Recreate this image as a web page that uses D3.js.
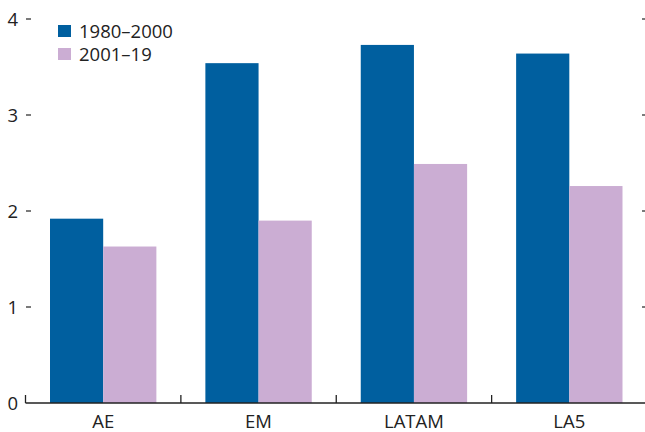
<!DOCTYPE html>
<html><head><meta charset="utf-8">
<script src="https://cdn.jsdelivr.net/npm/d3@7"></script>
<style>
html,body{margin:0;padding:0;background:#fff;}
svg{display:block;font-family:"Open Sans","Noto Sans",sans-serif;}
</style></head>
<body><svg id="c" width="645" height="432"></svg>
<script>
const categories = ["AE","EM","LATAM","LA5"];
const seriesNames = ["1980–2000","2001–19"];
const values1980 = [1.92, 3.54, 3.73, 3.64];
const values2001 = [1.63, 1.90, 2.49, 2.26];
const yTicks = [0,1,2,3,4];
const colors = ["#005f9f","#cbadd3"];

const svg = d3.select("#c");
const mLeft = 25.5, mRight = 647, mTop = 19, mBottom = 403;
const x = d3.scaleBand().domain(categories).range([mLeft,mRight]).paddingInner(0).paddingOuter(0);
const y = d3.scaleLinear().domain([0,4]).range([mBottom,mTop]);
const inner = d3.scaleBand().domain(seriesNames).range([24.5, x.bandwidth()-24.5]);
const fs = 18.5;

const series = [values1980, values2001];
categories.forEach((c,i)=>{
  seriesNames.forEach((s,j)=>{
    svg.append("rect")
      .attr("x", x(c)+inner(s))
      .attr("width", inner.bandwidth())
      .attr("y", y(series[j][i]))
      .attr("height", y(0)-y(series[j][i]))
      .attr("fill", colors[j]);
  });
});

// x axis line
svg.append("line").attr("x1",mLeft).attr("x2",645).attr("y1",mBottom).attr("y2",mBottom)
  .attr("stroke","#222").attr("stroke-width",1.3);
// category separators
const bounds = categories.map(c=>x(c)).concat([x(categories[3])+x.bandwidth()]);
bounds.forEach(b=>{
  svg.append("line").attr("x1",b).attr("x2",b).attr("y1",mBottom).attr("y2",mBottom-8)
    .attr("stroke","#222").attr("stroke-width",1.3);
});
// x labels
categories.forEach(c=>{
  svg.append("text").attr("x",x(c)+x.bandwidth()/2).attr("y",428)
    .attr("text-anchor","middle").attr("font-size",fs).attr("fill","#222").text(c);
});
// y ticks left & right
yTicks.forEach(t=>{
  svg.append("text").attr("x",18).attr("y",y(t)+6.5).attr("text-anchor","end")
    .attr("font-size",fs).attr("fill","#222").text(t);
  if(t>0){
    svg.append("line").attr("x1",26).attr("x2",31).attr("y1",y(t)).attr("y2",y(t))
      .attr("stroke","#222").attr("stroke-width",1.2);
    svg.append("line").attr("x1",642).attr("x2",645).attr("y1",y(t)).attr("y2",y(t))
      .attr("stroke","#222").attr("stroke-width",1.2);
  }
});
// legend
seriesNames.forEach((s,j)=>{
  const ly = 25 + j*23;
  svg.append("rect").attr("x",58).attr("y",ly).attr("width",13).attr("height",12).attr("fill",colors[j]);
  svg.append("text").attr("x",79).attr("y",ly+12.5).attr("font-size",fs).attr("fill","#222").text(s);
});
</script></body></html>
